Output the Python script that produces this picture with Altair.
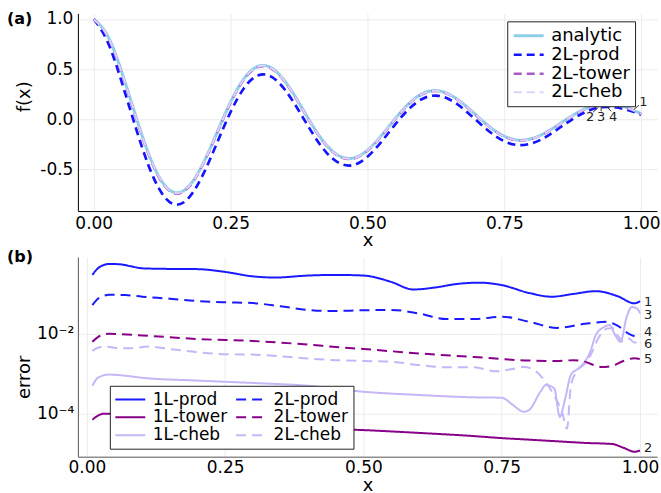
import altair as alt
import pandas as pd

FONT = "DejaVu Sans"

# ---------------- panel (a): f(x) and its approximations ----------------
xa = [0.000, 0.025, 0.050, 0.075, 0.100, 0.125, 0.150, 0.175, 0.200, 0.225,
      0.250, 0.275, 0.300, 0.325, 0.350, 0.375, 0.400, 0.425, 0.450, 0.475,
      0.500, 0.525, 0.550, 0.575, 0.600, 0.625, 0.650, 0.675, 0.700, 0.725,
      0.750, 0.775, 0.800, 0.825, 0.850, 0.875, 0.900, 0.925, 0.950, 0.975,
      1.000]

f_analytic = [1.000, 0.835, 0.489, 0.061, -0.341, -0.624, -0.733, -0.660, -0.438, -0.134,
              0.172, 0.409, 0.527, 0.510, 0.374, 0.164, -0.065, -0.257, -0.370, -0.386,
              -0.309, -0.166, 0.001, 0.153, 0.254, 0.286, 0.247, 0.154, 0.034, -0.083,
              -0.169, -0.208, -0.193, -0.135, -0.050, 0.038, 0.109, 0.148, 0.148, 0.113,
              0.055]

f_2l_prod = [1.000, 0.775, 0.389, -0.054, -0.461, -0.744, -0.853, -0.775, -0.548, -0.239,
             0.072, 0.314, 0.437, 0.422, 0.289, 0.082, -0.143, -0.332, -0.442, -0.456,
             -0.375, -0.228, -0.057, 0.098, 0.202, 0.236, 0.197, 0.104, -0.016, -0.133,
             -0.219, -0.258, -0.241, -0.180, -0.090, 0.002, 0.076, 0.118, 0.120, 0.093,
             0.045]

f_2l_tower = [0.997, 0.827, 0.479, 0.051, -0.351, -0.634, -0.743, -0.670, -0.447, -0.143,
              0.163, 0.400, 0.519, 0.502, 0.366, 0.156, -0.072, -0.264, -0.377, -0.393,
              -0.316, -0.172, -0.005, 0.147, 0.248, 0.281, 0.242, 0.149, 0.029, -0.088,
              -0.174, -0.212, -0.197, -0.139, -0.054, 0.034, 0.105, 0.145, 0.145, 0.110,
              0.052]

f_2l_cheb = [0.998, 0.831, 0.485, 0.057, -0.345, -0.628, -0.737, -0.664, -0.442, -0.138,
             0.168, 0.405, 0.523, 0.506, 0.370, 0.160, -0.069, -0.261, -0.373, -0.389,
             -0.312, -0.169, -0.002, 0.150, 0.251, 0.283, 0.244, 0.151, 0.031, -0.086,
             -0.172, -0.211, -0.196, -0.138, -0.053, 0.035, 0.106, 0.146, 0.146, 0.111,
             0.053]

names_a = ["analytic", "2L-prod", "2L-tower", "2L-cheb"]
colors_a = ["#8ecfe8", "#1414ff", "#a95cc8", "#dcd2fa"]
dashes_a = [[1, 0], [8, 5], [8, 5], [8, 5]]
widths_a = [3, 2, 2, 2]

# in-plot series labels with short leader lines
lab_a_text = ["1", "2", "3", "4"]
lab_a_x = [1.004, 0.907, 0.927, 0.949]
lab_a_y = [0.170, 0.020, 0.020, 0.020]
lead_a_x = [0.987, 0.912, 0.927, 0.936]
lead_a_y = [0.099, 0.069, 0.079, 0.139]
lead_a_x2 = [0.996, 0.922, 0.927, 0.945]
lead_a_y2 = [0.139, 0.119, 0.149, 0.079]

# ---------------- panel (b): approximation errors ----------------
x_1l_prod = [0.01, 0.02, 0.03, 0.04, 0.06, 0.08, 0.10, 0.15, 0.20, 0.25, 0.30, 0.34, 0.40, 0.45,
             0.50, 0.55, 0.59, 0.63, 0.67, 0.71, 0.75, 0.80, 0.84, 0.88, 0.92, 0.96, 0.99, 1.00]
e_1l_prod = [0.299, 0.437, 0.525, 0.562, 0.550, 0.490, 0.437, 0.422, 0.417, 0.355, 0.275, 0.257,
             0.288, 0.299, 0.288, 0.200, 0.129, 0.145, 0.178, 0.191, 0.166, 0.105, 0.085, 0.100,
             0.117, 0.087, 0.058, 0.066]

x_1l_tower = [0.01, 0.02, 0.03, 0.05, 0.10, 0.20, 0.30, 0.44, 0.50, 0.60, 0.70, 0.75, 0.80, 0.85,
              0.90, 0.95, 0.97, 0.99, 1.00]
e_1l_tower = [7.08e-5, 8.91e-5, 1.00e-4, 1.00e-4, 8.91e-5, 7.08e-5, 5.62e-5, 4.17e-5, 3.89e-5,
              3.31e-5, 2.75e-5, 2.45e-5, 2.24e-5, 2.04e-5, 1.86e-5, 1.74e-5, 1.41e-5, 1.12e-5,
              1.20e-5]

x_1l_cheb = [0.01, 0.02, 0.04, 0.07, 0.10, 0.20, 0.30, 0.40, 0.50, 0.60, 0.70, 0.75, 0.77, 0.79,
             0.80, 0.82, 0.83, 0.845, 0.855, 0.865, 0.875, 0.89, 0.90, 0.91, 0.92, 0.935, 0.945,
             0.955, 0.965, 0.975, 0.985, 0.995, 1.00]
e_1l_cheb = [5.01e-4, 7.94e-4, 9.55e-4, 8.91e-4, 7.94e-4, 6.76e-4, 5.89e-4, 5.01e-4, 3.55e-4,
             2.95e-4, 2.57e-4, 2.51e-4, 1.66e-4, 1.12e-4, 1.26e-4, 3.55e-4, 5.25e-4, 4.27e-4,
             8.32e-5, 2.51e-4, 9.33e-4, 1.41e-3, 2.00e-3, 3.55e-3, 9.33e-3, 1.48e-2, 1.66e-2,
             9.33e-3, 6.31e-3, 2.40e-2, 4.68e-2, 4.27e-2, 3.24e-2]

x_2l_prod = [0.01, 0.02, 0.03, 0.04, 0.07, 0.10, 0.15, 0.20, 0.25, 0.30, 0.35, 0.40, 0.44, 0.50,
             0.55, 0.60, 0.65, 0.70, 0.75, 0.80, 0.85, 0.90, 0.94, 0.96, 0.98, 1.00]
e_2l_prod = [0.0525, 0.0759, 0.0891, 0.0955, 0.0933, 0.0851, 0.0759, 0.0661, 0.0617, 0.0589,
             0.0490, 0.0398, 0.0372, 0.0389, 0.0398, 0.0324, 0.0234, 0.0234, 0.0269, 0.0200,
             0.0141, 0.0178, 0.0200, 0.0158, 0.0100, 0.0079]

x_2l_tower = [0.01, 0.02, 0.04, 0.10, 0.20, 0.30, 0.40, 0.45, 0.50, 0.60, 0.70, 0.80, 0.85, 0.88,
              0.90, 0.93, 0.95, 0.97, 0.99, 1.00]
e_2l_tower = [0.00631, 0.00832, 0.0100, 0.00912, 0.00741, 0.00661, 0.00537, 0.00468, 0.00417,
              0.00324, 0.00263, 0.00214, 0.00209, 0.00219, 0.00200, 0.00148, 0.00158, 0.00209,
              0.00245, 0.00234]

x_2l_cheb = [0.01, 0.02, 0.035, 0.06, 0.08, 0.11, 0.15, 0.20, 0.25, 0.30, 0.35, 0.40, 0.45, 0.50,
             0.55, 0.60, 0.65, 0.70, 0.74, 0.77, 0.79, 0.81, 0.83, 0.845, 0.86, 0.868, 0.875,
             0.885, 0.90, 0.91, 0.925, 0.94, 0.95, 0.96, 0.97, 0.98, 0.99, 1.00]
e_2l_cheb = [0.00372, 0.00447, 0.00479, 0.00437, 0.00437, 0.00479, 0.00417, 0.00347, 0.00309,
             0.00302, 0.00275, 0.00240, 0.00219, 0.00209, 0.00200, 0.00166, 0.00145, 0.00145,
             0.00115, 0.00132, 0.00148, 0.00120, 0.00060, 0.00028, 0.00010, 0.000042, 0.00050,
             0.00112, 0.00178, 0.00282, 0.00794, 0.0135, 0.0141, 0.00891, 0.00631, 0.00759,
             0.00603, 0.00676]

# legend fills column by column: 1L-* left, 2L-* right
names_b = ["1L-prod", "1L-tower", "1L-cheb", "2L-prod", "2L-tower", "2L-cheb"]
colors_b = ["#1a1aff", "#880088", "#c6b6f8", "#1a1aff", "#880088", "#c6b6f8"]
dashes_b = [[1, 0], [1, 0], [1, 0], [10, 6], [10, 6], [10, 6]]
widths_b = [2, 2, 1.5, 2, 2, 1.5]

# end-of-line labels
lab_b_text = ["1", "3", "4", "6", "5", "2"]
lab_b_y = [0.063, 0.030, 0.0112, 0.0056, 0.0024, 1.35e-5]

# ---------------- tables ----------------
rows_a = []
for name, ys in zip(names_a, [f_analytic, f_2l_prod, f_2l_tower, f_2l_cheb]):
    for xv, yv in zip(xa, ys):
        rows_a.append({"x": xv, "f": yv, "series": name})
df_a = pd.DataFrame(rows_a)

df_lab_a = pd.DataFrame({"x": lab_a_x, "y": lab_a_y, "t": lab_a_text})
df_lead_a = pd.DataFrame({"x": lead_a_x, "y": lead_a_y, "x2": lead_a_x2, "y2": lead_a_y2})

series_b = [
    ("1L-prod", x_1l_prod, e_1l_prod),
    ("1L-tower", x_1l_tower, e_1l_tower),
    ("1L-cheb", x_1l_cheb, e_1l_cheb),
    ("2L-prod", x_2l_prod, e_2l_prod),
    ("2L-tower", x_2l_tower, e_2l_tower),
    ("2L-cheb", x_2l_cheb, e_2l_cheb),
]
rows_b = []
for name, xs, es in series_b:
    for xv, ev in zip(xs, es):
        rows_b.append({"x": xv, "err": ev, "series": name})
df_b = pd.DataFrame(rows_b)
df_lab_b = pd.DataFrame({"x": [1.0] * len(lab_b_text), "y": lab_b_y, "t": lab_b_text})

# 30px horizontal line samples that start at the left edge of the symbol cell;
# the legend reserves only a small square cell, which keeps the rows tight
LINE_SYMBOL_A = "M-1,0L2.75,0"      # symbolSize 256 -> unit = 8px
LINE_SYMBOL_B = "M-1.14,0L3.14,0"   # symbolSize 196 -> unit = 7px

# ---------------- panel (a) ----------------
legend_a = alt.Legend(title=None, orient="none", legendX=430, legendY=8, columns=1,
                      symbolType=LINE_SYMBOL_A, symbolSize=256, symbolStrokeWidth=2,
                      labelFontSize=18, labelFont=FONT, labelColor="black",
                      labelOffset=20, rowPadding=0, padding=5,
                      fillColor="white", strokeColor="#222222")

xscale_a = alt.Scale(domain=[-0.029, 1.029], nice=False, zero=False)
yscale_a = alt.Scale(domain=[-0.916, 1.056], nice=False, zero=False)

xaxis_a = alt.Axis(values=[0, 0.25, 0.5, 0.75, 1.0], format=".2f", title="x",
                   ticks=False, labelPadding=4, titlePadding=0, labelFlush=False)
yaxis_a = alt.Axis(values=[-0.5, 0, 0.5, 1.0], format=".1f", title="f(x)",
                   labelExpr="replace(datum.label, '\u2212', '-')",
                   ticks=False, labelPadding=5, titleX=-53, titleY=83,
                   titleAlign="center", titleBaseline="middle")

lines_a = alt.Chart(df_a).mark_line(interpolate="natural").encode(
    x=alt.X("x:Q", scale=xscale_a, axis=xaxis_a),
    y=alt.Y("f:Q", scale=yscale_a, axis=yaxis_a),
    color=alt.Color("series:N", scale=alt.Scale(domain=names_a, range=colors_a), legend=legend_a),
    strokeDash=alt.StrokeDash("series:N", scale=alt.Scale(domain=names_a, range=dashes_a),
                              legend=legend_a),
    strokeWidth=alt.StrokeWidth("series:N", scale=alt.Scale(domain=names_a, range=widths_a),
                                legend=None),
    order=alt.Order("x:Q"),
)

leads_a = alt.Chart(df_lead_a).mark_rule(color="#333333", strokeWidth=1).encode(
    x=alt.X("x:Q", scale=xscale_a), y=alt.Y("y:Q", scale=yscale_a),
    x2="x2:Q", y2="y2:Q",
)
texts_a = alt.Chart(df_lab_a).mark_text(font=FONT, fontSize=13, color="#222222",
                                        align="center", baseline="middle").encode(
    x=alt.X("x:Q", scale=xscale_a), y=alt.Y("y:Q", scale=yscale_a), text="t:N",
)

panel_a = alt.layer(lines_a, leads_a, texts_a).properties(
    width=580, height=198,
    title=alt.TitleParams(text="(a)", anchor="start", frame="group", dx=-71, dy=17,
                          offset=0, fontSize=16, fontWeight="bold", font=FONT, color="black"),
)

# ---------------- panel (b) ----------------
legend_b = alt.Legend(title=None, orient="none", legendX=32, legendY=129, columns=2,
                      symbolType=LINE_SYMBOL_B, symbolSize=196, symbolStrokeWidth=2,
                      labelFontSize=17, labelFont=FONT, labelColor="black",
                      labelOffset=21, rowPadding=0, columnPadding=4, padding=5,
                      fillColor="white", strokeColor="#222222")

xscale_b = alt.Scale(domain=[-0.0162, 1.0307], nice=False, zero=False)
yscale_b = alt.Scale(type="log", domain=[8.4e-6, 0.84], nice=False)

xaxis_b = alt.Axis(values=[0, 0.25, 0.5, 0.75, 1.0], format=".2f", title="x",
                   ticks=False, labelPadding=3, titlePadding=1, labelFlush=False,
                   domainColor="#555555")
yaxis_b = alt.Axis(values=[1e-4, 1e-2], title="error",
                   labelExpr="datum.value < 0.001 ? '10\u207b\u2074' : '10\u207b\u00b2'",
                   ticks=False, labelPadding=4, titleX=-53, titleY=120,
                   titleAlign="center", titleBaseline="middle", domainColor="#555555")

lines_b = alt.Chart(df_b).mark_line(interpolate="monotone").encode(
    x=alt.X("x:Q", scale=xscale_b, axis=xaxis_b),
    y=alt.Y("err:Q", scale=yscale_b, axis=yaxis_b),
    color=alt.Color("series:N", scale=alt.Scale(domain=names_b, range=colors_b), legend=legend_b),
    strokeDash=alt.StrokeDash("series:N", scale=alt.Scale(domain=names_b, range=dashes_b),
                              legend=legend_b),
    strokeWidth=alt.StrokeWidth("series:N", scale=alt.Scale(domain=names_b, range=widths_b),
                                legend=None),
    order=alt.Order("x:Q"),
)

texts_b = alt.Chart(df_lab_b).mark_text(font=FONT, fontSize=13, color="#222222",
                                        align="left", baseline="middle", dx=4).encode(
    x=alt.X("x:Q", scale=xscale_b), y=alt.Y("y:Q", scale=yscale_b), text="t:N",
)

panel_b = alt.layer(lines_b, texts_b).properties(
    width=580, height=200,
    title=alt.TitleParams(text="(b)", anchor="start", frame="group", dx=-71, dy=8,
                          offset=0, fontSize=16, fontWeight="bold", font=FONT, color="black"),
)

chart = alt.vconcat(panel_a, panel_b, spacing=0).resolve_scale(
    x="independent", y="independent", color="independent",
    strokeDash="independent", strokeWidth="independent",
).resolve_legend(color="independent", strokeDash="independent").properties(
    padding={"left": 7, "top": 9, "right": 0, "bottom": 0},
).configure_view(stroke=None).configure_axis(
    labelFont=FONT, labelFontSize=17, labelColor="black",
    titleFont=FONT, titleFontSize=18, titleFontWeight="normal", titleColor="black",
    gridColor="#ebebeb", gridWidth=1, domainColor="black", domainWidth=1,
)

chart.save("out.html", embed_options={"renderer": "svg", "actions": False})
